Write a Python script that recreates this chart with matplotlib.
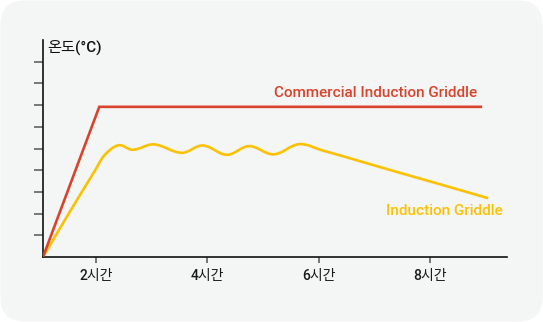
import matplotlib
matplotlib.use("Agg")
import matplotlib.pyplot as plt
from matplotlib.patches import FancyBboxPatch, PathPatch
from matplotlib.path import Path
from matplotlib.transforms import IdentityTransform
import numpy as np

plt.rcParams['font.family'] = ['Roboto', 'Noto Sans CJK KR', 'DejaVu Sans']

# data (hours, temperature in tick units)
hour_ticks = [2, 4, 6, 8]
hour_labels = ['2시간', '4시간', '6시간', '8시간']

commercial_x = [1.05, 2.06, 8.91]
commercial_y = [0.0, 6.92, 6.92]

induction_x = [1.05, 1.53, 1.98, 2.16, 2.41, 2.66, 3.04, 3.54, 3.92, 4.35,
               4.75, 5.19, 5.65, 6.08, 6.56, 7.28, 8.18, 9.04]
induction_y = [0.0, 2.08, 3.97, 4.71, 5.15, 4.94, 5.19, 4.80, 5.14, 4.71,
               5.11, 4.73, 5.20, 4.90, 4.55, 4.01, 3.35, 2.71]

RED = '#d8432b'
YELLOW = '#fcc100'


def smooth_path(xs, ys, yscale=0.39):
    # length-weighted catmull-rom -> cubic bezier
    pts = np.column_stack([xs, ys])
    n = len(pts)

    def dist(a, b):
        d = pts[b] - pts[a]
        return np.hypot(d[0], d[1] * yscale)

    tang = []
    for i in range(n):
        a, b = max(i - 1, 0), min(i + 1, n - 1)
        tang.append((pts[b] - pts[a]) / max(dist(a, b), 1e-9))
    verts = [pts[0]]
    codes = [Path.MOVETO]
    for i in range(n - 1):
        d = dist(i, i + 1)
        verts += [pts[i] + tang[i] * d / 3, pts[i + 1] - tang[i + 1] * d / 3,
                  pts[i + 1]]
        codes += [Path.CURVE4] * 3
    return Path(verts, codes)


fig = plt.figure(figsize=(5.43, 3.22), dpi=100, facecolor='white')
panel = FancyBboxPatch((0.5, 0.5), 542, 321,
                       boxstyle="round,pad=0,rounding_size=24",
                       transform=IdentityTransform(),
                       facecolor='#f4f5f5', edgecolor='none', zorder=0)
fig.add_artist(panel)

ax = fig.add_axes([43 / 543, 65 / 322, 464 / 543, 217 / 322])
ax.set_facecolor('none')

ax.plot(commercial_x, commercial_y, color=RED, lw=1.9,
        solid_joinstyle='miter', zorder=3)
ax.add_patch(PathPatch(smooth_path(induction_x, induction_y), facecolor='none',
                       edgecolor=YELLOW, lw=1.9, zorder=2))

ax.set_xlim(1.05, 9.38)
ax.set_ylim(0, 10)

for s in ['top', 'right']:
    ax.spines[s].set_visible(False)
for s in ['left', 'bottom']:
    ax.spines[s].set_color('#111111')
    ax.spines[s].set_linewidth(1.2)

ax.set_yticks(range(1, 10))
ax.set_yticklabels([])
ax.tick_params(axis='y', length=6.5, width=1.1, color='#555555', direction='out')
ax.set_xticks(hour_ticks)
ax.set_xticklabels(hour_labels, fontsize=10, color='#1a1a1a', fontweight='medium')
ax.tick_params(axis='x', length=4.5, width=1.1, color='#555555', pad=4)

ax.text(0.01, 1.0, '온도(°C)', transform=ax.transAxes, ha='left', va='top',
        fontsize=11, color='#111111', fontweight='medium')
ax.text(8.84, 7.25, 'Commercial Induction Griddle', ha='right', va='bottom',
        fontsize=11, color=RED, fontweight='medium')
ax.text(9.30, 1.82, 'Induction Griddle', ha='right', va='bottom',
        fontsize=11, color=YELLOW, fontweight='medium')

fig.savefig('out.png', dpi=100)
